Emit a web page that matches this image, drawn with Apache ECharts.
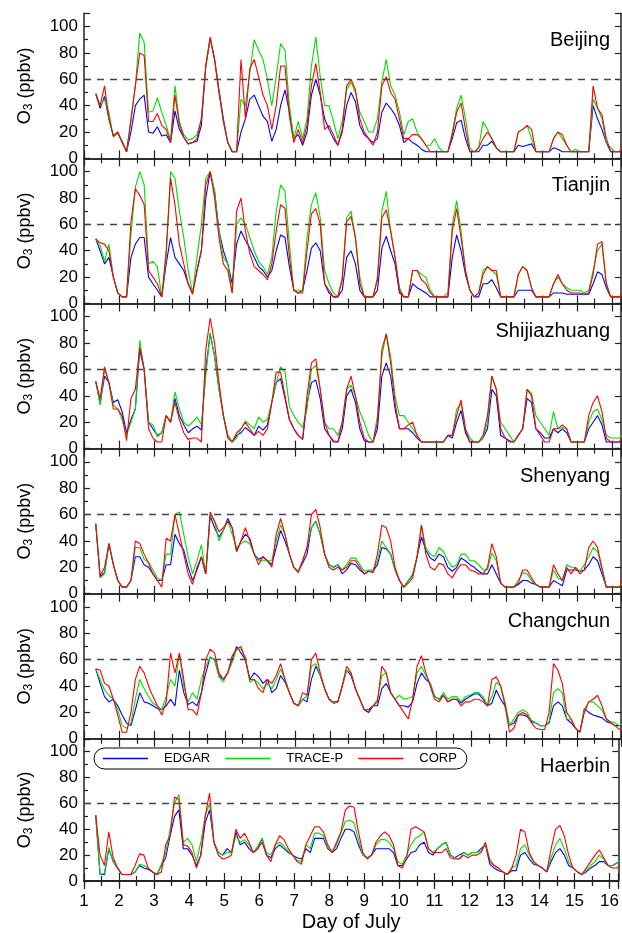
<!DOCTYPE html>
<html><head><meta charset="utf-8">
<script src="https://cdn.jsdelivr.net/npm/echarts@6.0.0/dist/echarts.min.js"></script>
<style>html,body{margin:0;padding:0;background:#fff}#chart{width:622px;height:933px}</style>
</head><body><div id="chart"></div>
<script>
// ---------- data ----------
const CITIES = ['Beijing', 'Tianjin', 'Shijiazhuang', 'Shenyang', 'Changchun', 'Haerbin'];
const MODELS = ['EDGAR', 'TRACE-P', 'CORP'];
const COLORS = ['#0000ff', '#00e000', '#ff0000'];
// sampling hours within a day (local time); day 1 starts at hour 8, day 16 ends at hour 8
const HOURS = [2, 5, 8, 11, 14, 17, 20, 23];
const X_MIN = 1, X_MAX = 16.25;
const Y_TICKS = [0, 20, 40, 60, 80, 100];
const THRESHOLD = 60;

// one row per day of July (1..16), O3 in ppbv
const BEIJING_EDGAR = [
[49,38,47,30,17,19],[13,5,20,40,45,48,20,19],[24,17,18,12,36,22,16,11],[12,13,25,70,91,75,52,30],
[12,5,5,20,30,45,48,40],[32,28,13,22,40,52,35,15],[18,10,20,48,60,48,30,22],[15,10,20,40,50,43,25,18],
[15,12,15,35,42,38,33,25],[12,15,12,10,7,5,5,5],[5,5,5,15,27,29,15,5],[5,5,10,10,13,8,5,5],
[5,5,10,9,10,11,5,5],[5,5,8,7,5,5,5,5],[5,5,5,40,30,22,12,5],[5,5,8]];
const BEIJING_TRACEP = [
[49,40,45,35,16,20],[12,5,28,55,95,88,35,36],[46,35,25,14,55,28,18,14],[15,18,30,70,91,75,50,28],
[12,5,5,45,40,65,90,82],[75,60,40,62,87,82,40,15],[28,15,30,70,92,62,40,40],[28,15,28,52,58,50,35,28],
[20,20,30,58,75,55,48,35],[18,28,30,20,15,10,10,15],[8,5,5,20,38,48,30,8],[5,8,28,22,15,8,5,5],
[5,5,20,22,25,15,5,5],[5,5,15,20,15,10,5,7],[5,5,5,45,38,30,12,8],[5,5,10]];
const BEIJING_CORP = [
[49,40,55,30,17,20],[12,5,30,55,80,78,28,28],[34,25,22,12,48,26,16,11],[12,15,30,70,92,75,50,28],
[12,5,5,75,30,68,75,62],[48,40,22,40,70,70,32,12],[22,12,25,55,72,50,22,25],[18,10,22,55,60,52,30,20],
[15,10,20,55,62,50,45,30],[15,15,18,18,15,10,5,5],[5,5,5,18,35,42,22,5],[5,8,15,20,15,8,5,5],
[5,5,20,22,25,22,5,5],[5,5,15,20,18,10,5,5],[5,5,5,55,38,33,15,5],[5,5,12]];

const TIANJIN_EDGAR = [
[49,40,30,35,20,8],[5,5,35,45,50,50,20,15],[10,5,30,50,35,30,25,15],[8,25,40,80,100,85,55,40],
[30,15,45,55,48,42,35,28],[25,20,25,40,52,50,28,10],[8,10,25,42,46,40,15,8],[5,5,10,35,40,30,10,5],
[5,5,10,42,51,40,30,8],[5,5,15,12,10,8,5,5],[5,5,5,35,52,40,22,10],[5,5,15,15,18,12,5,5],
[5,5,10,10,10,10,5,5],[5,5,8,8,8,7,7,7],[7,7,7,15,24,22,12,5],[5,5,8]];
const TIANJIN_TRACEP = [
[49,44,32,45,20,8],[5,5,52,88,100,90,30,32],[28,5,35,100,95,70,50,25],[8,35,60,95,100,85,55,35],
[30,8,60,65,60,50,40,32],[28,22,35,70,90,85,45,10],[10,10,50,75,84,65,25,15],[8,5,20,65,70,50,20,5],
[5,5,20,70,85,55,35,12],[5,5,25,25,22,20,10,5],[5,5,8,60,78,55,25,10],[5,8,25,28,25,22,5,5],
[5,5,22,28,25,12,5,5],[5,5,15,20,15,12,10,10],[10,8,10,25,40,45,15,5],[5,5,8]];
const TIANJIN_CORP = [
[49,46,45,40,20,8],[5,5,62,87,82,75,25,20],[15,5,40,95,75,45,30,15],[7,25,40,90,100,80,50,30],
[25,8,70,80,55,38,28,25],[22,18,30,55,75,72,35,10],[8,8,40,68,72,60,15,10],[5,5,18,62,66,50,15,5],
[5,5,18,65,71,55,35,10],[5,5,25,25,18,15,8,5],[5,5,5,55,72,50,25,10],[5,8,22,28,25,25,5,5],
[5,5,22,28,25,12,5,5],[5,5,15,22,15,10,8,8],[8,7,8,22,45,47,15,5],[5,5,10]];

const SHIJIAZHUANG_EDGAR = [
[51,34,55,50,35,37],[28,12,22,30,75,60,20,15],[10,12,25,20,38,25,18,12],[15,17,14,60,87,70,45,25],
[10,5,10,12,16,13,10,17],[14,18,35,50,53,38,22,15],[10,7,35,50,52,38,15,10],[5,5,15,40,45,35,15,6],
[5,5,15,55,65,55,30,15],[15,15,12,8,5,5,5,5],[5,5,10,8,20,29,12,5],[5,5,8,15,45,40,10,8],
[6,5,10,15,38,35,15,12],[8,8,15,12,15,12,5,5],[5,5,15,20,25,18,5,5],[5,5,10]];
const SHIJIAZHUANG_TRACEP = [
[51,33,60,50,33,30],[22,10,20,30,82,60,20,18],[9,12,25,20,43,30,20,17],[20,24,18,55,88,70,45,25],
[10,5,8,15,21,18,15,24],[20,22,35,50,62,58,32,25],[20,16,30,60,63,45,20,15],[15,10,20,45,48,40,28,20],
[10,5,25,70,87,70,40,25],[25,20,15,10,5,5,5,5],[5,5,10,10,30,34,15,8],[5,5,8,20,55,45,20,15],
[10,5,10,15,45,42,25,20],[15,10,28,15,16,15,5,5],[5,5,20,28,30,22,10,8],[8,8,12]];
const SHIJIAZHUANG_CORP = [
[51,38,62,50,30,30],[25,6,38,45,77,60,15,8],[5,5,25,20,35,22,12,7],[8,8,5,75,99,80,50,25],
[8,5,12,15,20,15,10,13],[10,15,35,58,58,40,22,15],[10,7,40,65,68,45,20,10],[6,5,20,45,55,40,20,8],
[5,5,20,75,87,65,35,15],[15,18,20,10,5,5,5,5],[5,5,10,10,25,37,15,5],[5,5,10,25,55,45,15,8],
[5,5,10,15,45,40,15,10],[5,5,15,15,18,15,5,5],[5,5,25,35,40,28,8,5],[5,5,12]];

const SHENYANG_EDGAR = [
[53,13,16,38,22,10],[5,5,10,28,28,22,20,15],[10,10,22,22,45,38,33,20],[10,18,28,15,59,50,43,48],
[57,50,32,40,45,42,30,26],[28,25,22,35,48,40,30,20],[17,23,30,50,55,45,30,22],[20,22,15,18,23,22,18,15],
[17,17,22,35,34,30,18,10],[5,10,14,28,43,33,27,25],[30,28,20,17,20,27,25,22],[20,17,15,15,22,15,8,5],
[5,5,7,10,10,8,7,5],[5,5,10,8,6,18,18,18],[17,18,22,28,25,15,5,5],[5,5,10]];
const SHENYANG_TRACEP = [
[53,12,15,38,22,10],[5,5,10,35,35,26,24,18],[12,10,30,30,60,62,45,28],[15,25,37,15,60,55,40,48],
[55,45,35,38,40,38,30,25],[25,25,25,40,52,45,30,20],[17,25,35,50,55,45,30,22],[20,22,18,22,27,27,22,17],
[18,18,25,40,35,30,18,10],[5,10,15,28,52,35,30,28],[35,32,25,20,22,30,30,25],[25,22,18,18,31,25,8,5],
[5,5,10,16,15,10,7,5],[5,5,18,12,10,22,20,20],[17,22,28,35,32,18,5,5],[5,5,10]];
const SHENYANG_CORP = [
[53,13,20,38,22,10],[5,5,10,40,38,30,23,15],[10,5,42,40,60,45,30,15],[7,20,28,15,62,55,47,50],
[55,50,32,40,50,40,30,22],[28,25,20,45,57,45,30,20],[16,25,35,60,64,50,30,20],[18,20,18,20,25,25,20,15],
[17,16,30,52,50,40,20,10],[5,8,12,28,52,30,20,18],[23,22,15,12,18,22,22,18],[17,15,15,20,38,28,8,5],
[5,5,8,18,18,12,7,5],[5,5,22,15,10,20,15,20],[15,18,35,40,35,20,5,5],[5,5,15]];

const CHANGCHUN_EDGAR = [
[53,42,32,28,30,25],[18,12,10,22,35,28,27,25],[23,22,25,30,25,52,35,26],[28,25,35,50,62,60,48,45],
[50,60,70,65,60,45,50,47],[42,45,35,38,48,43,35,27],[25,30,28,45,55,48,38,30],[27,28,40,52,48,38,30,22],
[20,25,25,38,42,35,30,25],[25,24,28,42,50,45,42,32],[30,33,28,30,30,27,30,32],[34,34,30,25,27,37,30,25],
[10,12,18,18,17,13,12,10],[10,12,25,28,25,15,12,8],[5,23,20,18,17,16,13,12],[10,10,10]];
const CHANGCHUN_TRACEP = [
[53,45,37,33,30,22],[10,8,12,30,45,38,32,27],[25,22,32,45,40,65,40,28],[35,30,45,55,62,60,47,43],
[50,58,68,68,62,43,45,42],[38,42,38,45,53,45,35,27],[25,30,32,55,57,48,38,30],[27,28,40,52,50,38,30,22],
[22,25,30,48,50,35,30,33],[30,31,32,50,55,48,42,32],[30,35,30,32,32,28,32,33],[35,35,32,25,32,43,40,28],
[10,15,20,22,20,14,12,10],[10,13,35,38,35,15,15,8],[5,22,28,28,25,22,15,13],[12,10,12]];
const CHANGCHUN_CORP = [
[53,52,42,40,30,18],[5,5,20,45,55,50,40,32],[25,18,28,65,50,65,45,22],[22,18,35,60,68,65,50,45],
[50,63,68,70,60,45,45,38],[35,45,42,48,57,45,35,27],[25,35,33,60,65,50,38,30],[28,28,40,55,50,38,30,22],
[22,25,28,55,50,35,30,25],[20,15,30,55,63,50,40,30],[28,33,28,30,30,25,28,28],[30,30,28,25,45,47,40,25],
[5,8,18,20,18,12,8,7],[7,20,57,52,42,20,15,8],[5,20,28,30,33,25,15,12],[10,7,10]];

const HAERBIN_EDGAR = [
[51,5,5,25,15,10],[5,5,5,7,12,10,9,7],[5,12,18,35,50,55,25,25],[20,12,20,45,55,30,22,20],
[25,22,38,28,30,25,22,25],[33,20,18,25,28,25,22,20],[18,17,25,22,33,33,33,25],[22,25,33,40,40,38,28,20],
[18,20,25,25,25,25,22,12],[12,17,22,23,28,30,22,20],[25,28,30,20,18,20,22,20],[22,22,25,28,13,10,8,7],
[5,8,8,20,22,17,13,12],[10,7,15,22,25,20,12,10],[7,5,7,10,12,15,15,12],[12,14,15]];
const HAERBIN_TRACEP = [
[51,5,6,26,15,10],[5,5,5,7,13,12,10,7],[5,13,22,40,60,67,30,33],[28,15,30,50,60,30,22,20],
[22,22,35,30,32,28,22,27],[33,22,20,28,30,27,23,20],[16,15,28,25,37,37,35,26],[22,28,37,46,47,45,32,20],
[18,20,28,32,32,30,25,15],[13,20,28,33,35,38,25,22],[25,28,30,20,18,17,22,20],[22,22,23,28,17,12,10,7],
[5,10,12,25,28,20,15,12],[10,7,18,28,33,25,15,10],[7,5,8,12,15,20,17,12],[12,14,16]];
const HAERBIN_CORP = [
[51,20,12,38,18,10],[5,5,5,12,21,20,10,7],[5,7,28,35,65,63,28,27],[22,10,20,50,68,30,20,17],
[18,20,40,33,37,30,22,25],[30,20,15,28,35,32,25,20],[15,13,28,35,42,42,38,28],[22,30,38,55,58,57,38,22],
[17,20,30,35,38,35,28,12],[10,18,40,42,40,38,25,22],[22,22,25,18,17,17,20,18],[20,20,22,30,15,12,10,7],
[5,10,20,40,38,22,15,12],[10,7,25,40,43,35,20,10],[7,5,10,15,20,24,18,12],[10,10,14]];

const CITY_DATA = [
  [BEIJING_EDGAR, BEIJING_TRACEP, BEIJING_CORP],
  [TIANJIN_EDGAR, TIANJIN_TRACEP, TIANJIN_CORP],
  [SHIJIAZHUANG_EDGAR, SHIJIAZHUANG_TRACEP, SHIJIAZHUANG_CORP],
  [SHENYANG_EDGAR, SHENYANG_TRACEP, SHENYANG_CORP],
  [CHANGCHUN_EDGAR, CHANGCHUN_TRACEP, CHANGCHUN_CORP],
  [HAERBIN_EDGAR, HAERBIN_TRACEP, HAERBIN_CORP]
];

// day rows -> [time in days, value]
function toPoints(rows) {
  const pts = [];
  rows.forEach((row, i) => {
    const day = i + 1;
    const hrs = i === 0 ? HOURS.slice(HOURS.length - row.length) : HOURS.slice(0, row.length);
    row.forEach((v, j) => pts.push([day + hrs[j] / 24, v]));
  });
  return pts;
}

// ---------- layout ----------
const FONT = 'Liberation Sans, Arial, sans-serif';
const PANEL_TOP = 13.3, PANEL_STEP = 145.1, PANEL_H = 145.1;
const AX = '#222';

const grids = [], xAxes = [], yAxes = [], series = [], titles = [];
CITIES.forEach((city, g) => {
  const top = PANEL_TOP + g * PANEL_STEP;
  grids.push({ left: 84, right: 1, top: top, height: PANEL_H });
  const xBase = {
    type: 'value', gridIndex: g, min: X_MIN, max: X_MAX, interval: 1,
    splitLine: { show: false },
    axisLine: { show: true, lineStyle: { color: AX, width: 1.5 } },
    axisTick: { show: true, inside: true, length: 8, lineStyle: { color: AX, width: 1.2 } },
    minorTick: { show: true, splitNumber: 2, length: 5, lineStyle: { color: AX, width: 1.2 } },
    axisLabel: { show: false }
  };
  xAxes.push(Object.assign({}, xBase, { position: 'bottom' }));
  xAxes.push(Object.assign({}, xBase, { position: 'top' }));
  const yBase = {
    type: 'value', gridIndex: g, min: 0, max: 110, interval: 20,
    splitLine: { show: false },
    axisLine: { show: true, lineStyle: { color: AX, width: 1.5 } },
    axisTick: { show: true, inside: true, length: 6, lineStyle: { color: AX, width: 1.2 } }
  };
  yAxes.push(Object.assign({}, yBase, {
    position: 'left',
    minorTick: { show: true, splitNumber: 2, length: 4, lineStyle: { color: AX, width: 1.2 } },
    axisLabel: {
      show: true, margin: 6, fontSize: 17, color: '#000', fontFamily: FONT,
      formatter: v => (Y_TICKS.indexOf(v) >= 0 ? String(v) : '')
    },
    name: '{a|O}{s|3}{a| (ppbv)}', nameLocation: 'middle', nameGap: 49, nameRotate: 90,
    nameTextStyle: {
      rich: {
        a: { fontSize: 18, color: '#000', fontFamily: FONT, lineHeight: 20 },
        s: { fontSize: 12, color: '#000', fontFamily: FONT, lineHeight: 12, verticalAlign: 'bottom' }
      }
    }
  }));
  yAxes.push(Object.assign({}, yBase, { position: 'right', axisLabel: { show: false } }));

  MODELS.forEach((m, k) => {
    const s = {
      name: m, type: 'line', xAxisIndex: 2 * g, yAxisIndex: 2 * g,
      data: toPoints(CITY_DATA[g][k]),
      symbol: 'none', showSymbol: false,
      lineStyle: { color: COLORS[k], width: 1.1 }, itemStyle: { color: COLORS[k] },
      z: 3 + k, clip: true
    };
    if (k === 0) {
      s.markLine = {
        silent: true, symbol: ['none', 'none'], label: { show: false },
        lineStyle: { color: '#444', type: [7, 6], width: 1.3 },
        data: [{ yAxis: THRESHOLD }]
      };
    }
    series.push(s);
  });

  titles.push({
    text: city, right: 12, top: top + 17.5, padding: 0,
    textStyle: { fontSize: 20, fontWeight: 'normal', color: '#000', fontFamily: FONT }
  });
});

// bottom panel: labelled axis with outward ticks
xAxes.push({
  type: 'value', gridIndex: CITIES.length - 1, min: X_MIN, max: X_MAX, interval: 1, position: 'bottom',
  splitLine: { show: false },
  axisLine: { show: true, lineStyle: { color: AX, width: 1.5 } },
  axisTick: { show: true, inside: false, length: 6, lineStyle: { color: AX, width: 1.2 } },
  minorTick: { show: true, splitNumber: 2, length: 4, lineStyle: { color: AX, width: 1.2 } },
  axisLabel: {
    show: true, margin: 12, fontSize: 17, color: '#000', fontFamily: FONT,
    formatter: v => (Number.isInteger(v) ? String(v) : '')
  },
  name: 'Day of July', nameLocation: 'middle', nameGap: 31,
  nameTextStyle: { fontSize: 20, color: '#000', fontFamily: FONT }
});

const chart = echarts.init(document.getElementById('chart'), null, { renderer: 'canvas' });
chart.setOption({
  animation: false,
  backgroundColor: '#fff',
  title: titles,
  grid: grids,
  xAxis: xAxes,
  yAxis: yAxes,
  legend: {
    data: MODELS, left: 94, top: 748, orient: 'horizontal',
    icon: 'rect', itemWidth: 45, itemHeight: 1.5, itemGap: 15,
    padding: [4, 10, 4, 9],
    borderColor: '#000', borderWidth: 1, borderRadius: 11, backgroundColor: '#fff',
    textStyle: { fontSize: 13, color: '#000', fontFamily: FONT, padding: [0, 0, 0, 11], lineHeight: 13 }
  },
  series: series
});
</script>
</body></html>
